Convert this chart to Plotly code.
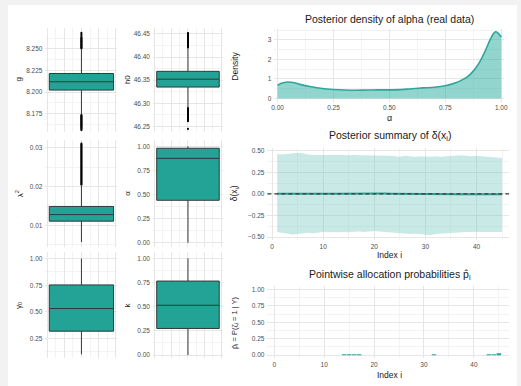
import plotly.graph_objects as go

W, H = 521, 386

# ---------------- data ----------------
box_names = ["g", "h0", "lambda2", "alpha", "gamma0", "k"]
box_q1 = [8.2023, 46.335, 0.0111, 0.44, 0.318, 0.275]
box_median = [8.2119, 46.352, 0.0128, 0.875, 0.531, 0.515]
box_q3 = [8.2215, 46.369, 0.0149, 0.98, 0.753, 0.765]
box_lower = [8.1745, 46.291, 0.0057, 0.0, 0.10, 0.0]
box_upper = [8.2495, 46.419, 0.0202, 1.0, 1.0, 1.0]

g_outliers = [8.2505, 8.2512, 8.2519, 8.2526, 8.2533, 8.254, 8.2547, 8.2554, 8.2561, 8.2568,
              8.2575, 8.2582, 8.2589, 8.2596, 8.2603, 8.261, 8.2617, 8.2624, 8.2632, 8.2645,
              8.266, 8.2672, 8.2685,
              8.1735, 8.1728, 8.1721, 8.1714, 8.1707, 8.17, 8.1693, 8.1686, 8.1679, 8.1672,
              8.1665, 8.1658, 8.1651, 8.1644, 8.1637, 8.163, 8.1623, 8.1616, 8.1609, 8.1602,
              8.1595, 8.1588, 8.158, 8.157, 8.156]
h0_outliers = [46.4205, 46.422, 46.4235, 46.425, 46.4265, 46.428, 46.4295, 46.431, 46.4325,
               46.434, 46.4355, 46.437, 46.4385, 46.44, 46.4415, 46.443, 46.4445, 46.446,
               46.4475, 46.449, 46.4505, 46.452,
               46.2895, 46.288, 46.2865, 46.285, 46.2835, 46.282, 46.2805, 46.279, 46.2775,
               46.276, 46.2745, 46.273, 46.2715, 46.27, 46.2685, 46.267, 46.2655, 46.264,
               46.2625, 46.261, 46.2445]
lambda2_outliers = [0.0205, 0.0207, 0.0209, 0.0211, 0.0213, 0.0215, 0.0217, 0.0219, 0.0221,
                    0.0223, 0.0225, 0.0227, 0.0229, 0.0231, 0.0233, 0.0235, 0.0237, 0.0239,
                    0.0241, 0.0243, 0.0245, 0.0247, 0.0249, 0.0251, 0.0253, 0.0255, 0.0257,
                    0.0259, 0.0261, 0.0263, 0.0265, 0.0267, 0.0269, 0.0271, 0.0273, 0.0275,
                    0.0277, 0.0279, 0.0281, 0.0283, 0.0285, 0.0287, 0.0289, 0.0291, 0.0293,
                    0.0295, 0.0297, 0.0299, 0.0301, 0.0303, 0.0305, 0.0307, 0.0309, 0.0311]

alpha_grid = [0.0, 0.025, 0.05, 0.075, 0.1, 0.15, 0.2, 0.25, 0.3, 0.35, 0.4, 0.45, 0.5,
              0.55, 0.6, 0.65, 0.7, 0.75, 0.8, 0.825, 0.85, 0.875, 0.9, 0.925, 0.95,
              0.965, 0.975, 0.985, 1.0]
alpha_density = [0.68, 0.80, 0.84, 0.80, 0.72, 0.60, 0.51, 0.46, 0.43, 0.42, 0.43, 0.44, 0.44,
                 0.45, 0.50, 0.54, 0.57, 0.65, 0.82, 0.95, 1.12, 1.40, 1.80, 2.35, 3.00,
                 3.32, 3.42, 3.36, 3.15]

index_i = list(range(1, 46))
delta_upper = [0.46, 0.455, 0.46, 0.465, 0.475, 0.47, 0.455, 0.45, 0.45, 0.455,
               0.455, 0.45, 0.455, 0.45, 0.445, 0.45, 0.445, 0.445, 0.445, 0.44,
               0.44, 0.445, 0.44, 0.435, 0.43, 0.44, 0.435, 0.43, 0.435, 0.43,
               0.43, 0.435, 0.43, 0.435, 0.44, 0.44, 0.445, 0.44, 0.435, 0.44,
               0.435, 0.43, 0.425, 0.42, 0.415]
delta_lower = [-0.44, -0.45, -0.46, -0.47, -0.465, -0.455, -0.45, -0.455, -0.45, -0.44,
               -0.445, -0.44, -0.445, -0.44, -0.445, -0.44, -0.435, -0.44, -0.435, -0.43,
               -0.435, -0.44, -0.445, -0.45, -0.455, -0.46, -0.465, -0.46, -0.465, -0.47,
               -0.475, -0.465, -0.46, -0.455, -0.45, -0.45, -0.445, -0.44, -0.44, -0.44,
               -0.445, -0.44, -0.445, -0.44, -0.44]
delta_mean = [0.0, 0.001, 0.0, -0.001, 0.0, 0.001, 0.002, 0.001, 0.0, 0.001,
              0.002, 0.002, 0.001, 0.002, 0.003, 0.003, 0.004, 0.004, 0.005, 0.005,
              0.004, 0.003, 0.002, 0.001, 0.0, 0.0, -0.001, -0.001, -0.002, -0.002,
              -0.002, -0.003, -0.003, -0.003, -0.004, -0.004, -0.004, -0.005, -0.005, -0.005,
              -0.005, -0.005, -0.006, -0.006, -0.006]
p_hat = [0.0, 0.0, 0.0, 0.0, 0.0, 0.0, 0.0, 0.0, 0.0, 0.0,
         0.0, 0.0, 0.0, 0.002, 0.003, 0.003, 0.002, 0.0, 0.0, 0.0,
         0.0, 0.0, 0.0, 0.0, 0.0, 0.0, 0.0, 0.0, 0.0, 0.0,
         0.0, 0.003, 0.0, 0.0, 0.0, 0.0, 0.0, 0.0, 0.0, 0.0,
         0.0, 0.0, 0.001, 0.012, 0.022]

# ---------------- style ----------------
TEAL = "#22a396"
FONT = "Liberation Sans"
GRID = "#e6e6e6"
MINOR = "#f3f3f3"
TICKC = "#4d4d4d"


def fx(px):
    return px / W


def fy(py):
    return 1 - py / H


fig = go.Figure()

box_panels = [
    (1, (43, 116), (27, 131), [8.1542, 8.2742], 0.025, ".3f", 0.0125),
    (2, (152, 223), (27, 131), [46.2385, 46.4629], 0.05, ".2f", 0.025),
    (3, (43, 116), (139, 247), [0.00434, 0.03214], 0.01, ".2f", 0.005),
    (4, (152, 223), (139, 247), [-0.0487, 1.0694], 0.25, ".2f", 0.125),
    (5, (43, 116), (252, 358), [0.0654, 1.059], 0.25, ".2f", 0.125),
    (6, (152, 223), (252, 358), [-0.031, 1.062], 0.25, ".2f", 0.125),
]
outlier_sets = {0: g_outliers, 1: h0_outliers, 2: lambda2_outliers}

layout_axes = {}
for i, (ax, xr, yr, yrange, dt, fmt, mdt) in enumerate(box_panels):
    xa = "x" if ax == 1 else f"x{ax}"
    ya = "y" if ax == 1 else f"y{ax}"
    fig.add_trace(go.Box(
        x=[0], q1=[box_q1[i]], median=[box_median[i]], q3=[box_q3[i]],
        lowerfence=[box_lower[i]], upperfence=[box_upper[i]],
        width=0.75, whiskerwidth=0, boxpoints=False,
        fillcolor=TEAL, line=dict(color="#2f3b39", width=1),
        xaxis=xa, yaxis=ya, showlegend=False, hoverinfo="skip"))
    if i in outlier_sets:
        vals = outlier_sets[i]
        fig.add_trace(go.Scatter(
            x=[0] * len(vals), y=vals, mode="markers",
            marker=dict(color="black", size=2.1), xaxis=xa, yaxis=ya,
            showlegend=False, hoverinfo="skip"))
    layout_axes[f"xaxis{'' if ax == 1 else ax}"] = dict(
        domain=[fx(xr[0]), fx(xr[1])], range=[-0.42, 0.42], anchor=ya,
        showticklabels=False, ticks="", tick0=0, dtick=0.2, showgrid=True,
        gridcolor=GRID, gridwidth=0.8, zeroline=False, showline=False,
        minor=dict(dtick=0.1, showgrid=True, gridcolor=MINOR, gridwidth=0.6))
    layout_axes[f"yaxis{'' if ax == 1 else ax}"] = dict(
        domain=[fy(yr[1]), fy(yr[0])], range=yrange, anchor=xa, dtick=dt, tick0=0,
        tickformat=fmt, showgrid=True, gridcolor=GRID, gridwidth=0.8, zeroline=False,
        showline=False, ticks="", ticklabelstandoff=2,
        tickfont=dict(family=FONT, size=6.5, color=TICKC),
        minor=dict(dtick=mdt, showgrid=True, gridcolor=MINOR, gridwidth=0.6))

# density panel (axis 7)
fig.add_trace(go.Scatter(
    x=alpha_grid, y=alpha_density, mode="lines", line=dict(color="#2ea79b", width=1.6, shape="spline"),
    fill="tozeroy", fillcolor="rgba(38,172,158,0.5)", xaxis="x7", yaxis="y7",
    showlegend=False, hoverinfo="skip"))
# summary panel (axis 8)
fig.add_trace(go.Scatter(
    x=index_i, y=delta_upper, mode="lines", line=dict(width=0, color="rgba(0,0,0,0)"),
    xaxis="x8", yaxis="y8", showlegend=False, hoverinfo="skip"))
fig.add_trace(go.Scatter(
    x=index_i, y=delta_lower, mode="lines", line=dict(width=0, color="rgba(0,0,0,0)"),
    fill="tonexty", fillcolor="rgba(120,200,195,0.4)",
    xaxis="x8", yaxis="y8", showlegend=False, hoverinfo="skip"))
fig.add_trace(go.Scatter(
    x=index_i, y=delta_mean, mode="lines", line=dict(color="#2aa093", width=2),
    xaxis="x8", yaxis="y8", showlegend=False, hoverinfo="skip"))
# allocation panel (axis 9)
fig.add_trace(go.Bar(
    x=index_i, y=p_hat, marker=dict(color="#2aa396", line=dict(width=0)), width=0.9,
    xaxis="x9", yaxis="y9", showlegend=False, hoverinfo="skip"))

tick_font = dict(family=FONT, size=6.5, color=TICKC)
right_panels = [
    (7, (275, 508), (28, 101), [-0.0146, 1.0132], [-0.169, 3.562], 0.25, 0.125, 1, 0.5, ".2f", None),
    (8, (268, 513), (147, 240), [-0.907, 46.37], [-0.538, 0.5346], 10, 5, 0.25, 0.125, None, ".2f"),
    (9, (268, 513), (286, 358), [-1.38, 47.06], [-0.0457, 1.05], 10, 5, 0.25, 0.125, None, ".2f"),
]
for ax, xr, yr, xrange, yrange, xdt, xmdt, ydt, ymdt, xfmt, yfmt in right_panels:
    xa, ya = f"x{ax}", f"y{ax}"
    xd = dict(domain=[fx(xr[0]), fx(xr[1])], range=xrange, anchor=ya, dtick=xdt, tick0=0,
              showgrid=True, gridcolor=GRID, gridwidth=0.8, zeroline=False, showline=False,
              ticks="", tickfont=tick_font, ticklabelstandoff=1,
              minor=dict(dtick=xmdt, showgrid=True, gridcolor=MINOR, gridwidth=0.6))
    if xfmt:
        xd["tickformat"] = xfmt
    yd = dict(domain=[fy(yr[1]), fy(yr[0])], range=yrange, anchor=xa, dtick=ydt, tick0=0,
              showgrid=True, gridcolor=GRID, gridwidth=0.8, zeroline=False, showline=False,
              ticks="", tickfont=tick_font, ticklabelstandoff=2,
              minor=dict(dtick=ymdt, showgrid=True, gridcolor=MINOR, gridwidth=0.6))
    if yfmt:
        yd["tickformat"] = yfmt
    layout_axes[f"xaxis{ax}"] = xd
    layout_axes[f"yaxis{ax}"] = yd

shapes = [
    dict(type="rect", xref="paper", yref="paper", x0=fx(5), x1=1, y0=0, y1=fy(4),
         fillcolor="white", line=dict(width=0), layer="below"),
    dict(type="line", xref="x8 domain", yref="y8", x0=0, x1=1, y0=0, y1=0,
         line=dict(color="#3a3a3a", width=1.1, dash="4px,3px"), layer="above"),
]

annotations = []


def ann(text, px, py, size, angle=0, color="#1a1a1a"):
    annotations.append(dict(text=text, x=fx(px), y=fy(py), xref="paper", yref="paper",
                            showarrow=False, textangle=angle, xanchor="center", yanchor="middle",
                            font=dict(family=FONT, size=size, color=color)))


ann("g", 16, 79, 8, -90)
ann("h0", 126, 79, 8, -90)
ann("λ<sup>2</sup>", 16, 193, 8, -90)
ann("α", 126, 193, 8, -90)
ann("γ<sub>0</sub>", 16, 305, 8, -90)
ann("k", 126, 305, 8, -90)
ann("Posterior density of alpha (real data)", 392, 18, 10.5)
ann("Posterior summary of δ(x<sub>i</sub>)", 392, 135, 10.5)
ann("Pointwise allocation probabilities p̂<sub>i</sub>", 392, 275, 10.5)
ann("α", 392, 117, 9)
ann("Density", 235, 65, 8.5, -90)
ann("Index i", 392, 255, 8.5)
ann("δ(x<sub>i</sub>)", 235, 193, 8.5, -90)
ann("Index i", 392, 375, 8.5)
ann("p̂<sub>i</sub> = P(ζ<sub>i</sub> = 1 | Y)", 235, 322, 7.5, -90)

fig.update_layout(
    width=W, height=H, margin=dict(l=0, r=0, t=0, b=0),
    paper_bgcolor="#f2f2f2", plot_bgcolor="rgba(0,0,0,0)",
    shapes=shapes, annotations=annotations, showlegend=False,
    font=dict(family=FONT), bargap=0.1,
    **layout_axes)

fig.write_html("out.html")
